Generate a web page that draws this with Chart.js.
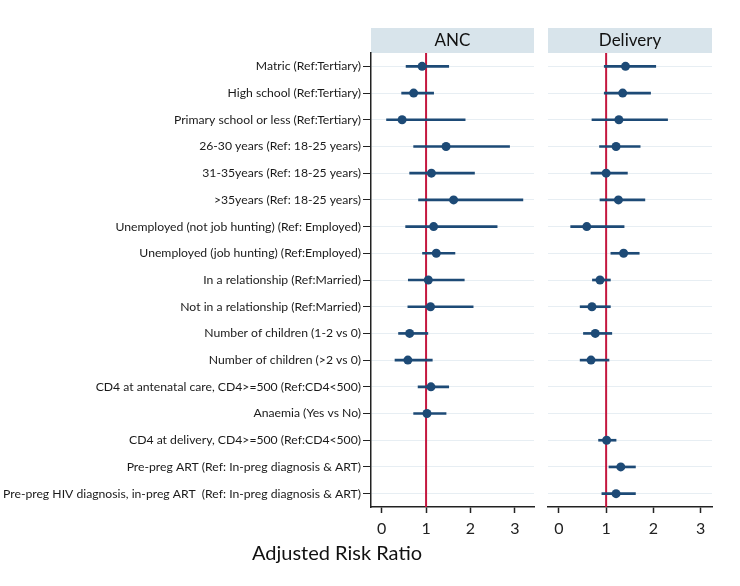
<!DOCTYPE html>
<html>
<head>
<meta charset="utf-8">
<script src="https://cdn.jsdelivr.net/npm/chart.js@4/dist/chart.umd.min.js"></script>
<style>
  html, body { margin: 0; padding: 0; background: #fff; }
  #wrap { position: relative; width: 740px; height: 586px; overflow: hidden; }
  #c1 { position: absolute; left: 0; top: 0; }
  #c2 { position: absolute; left: 540px; top: 0; }
  #xtitle { position: absolute; left: 237px; width: 200px; top: 540px; text-align: center;
            font-family: Lato, "Open Sans", sans-serif; font-size: 20px; color: #111; }
</style>
</head>
<body>
<div id="wrap">
  <canvas id="c1" width="540" height="586"></canvas>
  <canvas id="c2" width="200" height="586"></canvas>
  <div id="xtitle">Adjusted Risk Ratio</div>
</div>
<script>
const categories = [
  "Matric (Ref:Tertiary)",
  "High school (Ref:Tertiary)",
  "Primary school or less (Ref:Tertiary)",
  "26-30 years (Ref: 18-25 years)",
  "31-35years (Ref: 18-25 years)",
  ">35years (Ref: 18-25 years)",
  "Unemployed (not job hunting) (Ref: Employed)",
  "Unemployed (job hunting) (Ref:Employed)",
  "In a relationship (Ref:Married)",
  "Not in a relationship (Ref:Married)",
  "Number of children (1-2 vs 0)",
  "Number of children (>2 vs 0)",
  "CD4 at antenatal care, CD4>=500 (Ref:CD4<500)",
  "Anaemia (Yes vs No)",
  "CD4 at delivery, CD4>=500 (Ref:CD4<500)",
  "Pre-preg ART (Ref: In-preg diagnosis & ART)",
  "Pre-preg HIV diagnosis, in-preg ART  (Ref: In-preg diagnosis & ART)"
];
const ancEst = [0.91, 0.72, 0.46, 1.45, 1.12, 1.62, 1.17, 1.23, 1.05, 1.10, 0.63, 0.59, 1.11, 1.02, null, null, null];
const ancLo  = [0.55, 0.45, 0.11, 0.72, 0.63, 0.83, 0.54, 0.92, 0.60, 0.59, 0.38, 0.30, 0.82, 0.72, null, null, null];
const ancHi  = [1.51, 1.17, 1.88, 2.88, 2.09, 3.18, 2.60, 1.65, 1.86, 2.06, 1.04, 1.14, 1.51, 1.45, null, null, null];
const delEst = [1.41, 1.35, 1.27, 1.21, 1.00, 1.26, 0.59, 1.37, 0.87, 0.70, 0.77, 0.68, null, null, 1.01, 1.31, 1.21];
const delLo  = [0.96, 0.96, 0.70, 0.86, 0.68, 0.87, 0.25, 1.10, 0.71, 0.45, 0.52, 0.45, null, null, 0.84, 1.06, 0.91];
const delHi  = [2.05, 1.94, 2.30, 1.72, 1.45, 1.82, 1.38, 1.70, 1.09, 1.09, 1.12, 1.06, null, null, 1.21, 1.62, 1.62];
const xTicks = [0, 1, 2, 3];
const refValue = 1;
const panelTitles = ["ANC", "Delivery"];

const FONT = "Lato, 'Open Sans', sans-serif";
const NAVY = "#1d4a76";
const RED = "#c4173f";

const headerPlugin = {
  id: 'panelHeader',
  beforeDraw(chart, args, opts) {
    const ctx = chart.ctx, a = chart.chartArea;
    ctx.save();
    ctx.fillStyle = '#d8e4eb';
    ctx.fillRect(a.left, 28, a.right - a.left, 25);
    ctx.fillStyle = '#111';
    ctx.font = "17px " + FONT;
    ctx.textAlign = 'center';
    ctx.textBaseline = 'middle';
    ctx.fillText(opts.text, (a.left + a.right) / 2, 41);
    ctx.restore();
  }
};
const refLinePlugin = {
  id: 'refLine',
  beforeDatasetsDraw(chart) {
    const ctx = chart.ctx, a = chart.chartArea;
    const x = chart.scales.x.getPixelForValue(refValue);
    ctx.save();
    ctx.strokeStyle = RED;
    ctx.lineWidth = 2;
    ctx.beginPath();
    ctx.moveTo(x, a.top);
    ctx.lineTo(x, a.bottom);
    ctx.stroke();
    ctx.restore();
  }
};

function makeChart(id, title, est, lo, hi, xmin, xmax, showY, padRight) {
  const ci = lo.map((l, i) => (l == null ? null : [l, hi[i]]));
  return new Chart(document.getElementById(id), {
    type: 'bar',
    data: {
      labels: categories,
      datasets: [
        {
          type: 'line',
          data: est,
          showLine: false,
          pointRadius: 4.5,
          pointHoverRadius: 4.5,
          pointBackgroundColor: NAVY,
          pointBorderWidth: 0,
          order: 0
        },
        {
          type: 'bar',
          data: ci,
          backgroundColor: NAVY,
          barThickness: 2,
          borderSkipped: false,
          order: 1
        }
      ]
    },
    options: {
      indexAxis: 'y',
      responsive: false,
      animation: false,
      events: [],
      layout: { padding: { top: 53, right: padRight, bottom: 0, left: 0 } },
      plugins: {
        legend: { display: false },
        tooltip: { enabled: false },
        panelHeader: { text: title }
      },
      scales: {
        y: {
          type: 'category',
          offset: true,
          grid: {
            offset: false,
            color: '#e7eef3',
            lineWidth: 1,
            drawTicks: showY,
            tickLength: 8,
            tickColor: '#222',
            tickWidth: 1
          },
          border: { display: showY, color: '#222', width: 1.5 },
          ticks: {
            display: showY,
            color: '#1a1a1a',
            padding: 2,
            font: { family: FONT, size: 12.2 }
          },
          afterFit(scale) { scale.width = showY ? 371 : 8; }
        },
        x: {
          type: 'linear',
          min: xmin,
          max: xmax,
          afterBuildTicks(scale) { scale.ticks = xTicks.map(v => ({ value: v })); },
          grid: {
            drawOnChartArea: false,
            drawTicks: true,
            tickLength: 6,
            tickColor: '#222',
            tickWidth: 1.5
          },
          border: { display: true, color: '#222', width: 1.5 },
          ticks: {
            color: '#222',
            padding: 6,
            font: { family: FONT, size: 16 }
          },
          afterFit(scale) { scale.height = 79; }
        }
      }
    },
    plugins: [headerPlugin, refLinePlugin]
  });
}

makeChart('c1', panelTitles[0], ancEst, ancLo, ancHi, -0.24, 3.43, true, 6);
makeChart('c2', panelTitles[1], delEst, delLo, delHi, -0.23, 3.24, false, 28);
</script>
</body>
</html>
